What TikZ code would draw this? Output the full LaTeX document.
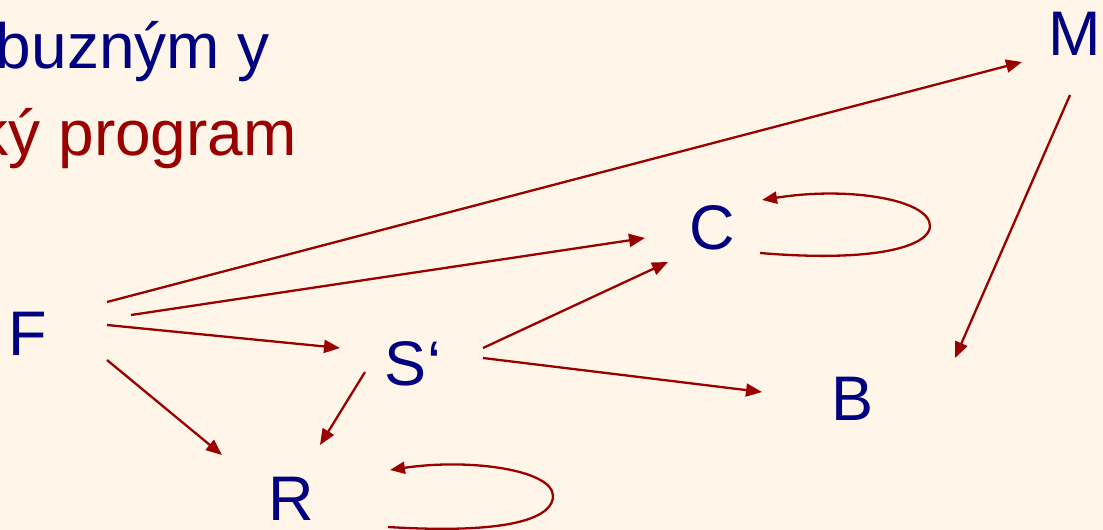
\documentclass[tikz,border=0pt]{standalone}
\usepackage{fontspec}
\setmainfont{Liberation Sans}
\usepackage{xcolor}
\definecolor{slidebg}{RGB}{255,245,232}
\definecolor{textnavy}{RGB}{0,0,128}
\definecolor{arrowred}{RGB}{153,0,0}
\usetikzlibrary{arrows.meta}
\tikzset{
    letter/.style   = {inner sep=0pt, anchor=base, text=textnavy,
                       font=\fontsize{63}{70}\selectfont},
    headline/.style = {inner sep=0pt, anchor=base east,
                       font=\fontsize{64}{72}\selectfont},
    relArrow/.style = {-{Triangle[length=16pt,width=13pt]}, line width=2.3pt,
                       draw=arrowred},
    loopArrow/.style = {-{Triangle[length=15pt,width=12pt]}, line width=2.3pt,
                        draw=arrowred}
}
\begin{document}
\begin{tikzpicture}[x=1pt, y=-1pt]
\clip (0,0) rectangle (1103,530);
\fill[slidebg] (0,0) rectangle (1103,530);
% cropped heading lines
\node[headline, text=textnavy] (line1) at (270,68)  {buzným y};
\node[headline, text=arrowred] (line2) at (297,155) {ký program};
% graph nodes
\node[letter] (F) at (28,355)   {F};
\node[letter] (S) at (413,385)  {S‘};
\node[letter] (C) at (712,249)  {C};
\node[letter] (B) at (853,420)  {B};
\node[letter] (R) at (291,520)  {R};
\node[letter] (M) at (1075,55)  {M};
% edges
\foreach \a/\p/\b/\q in {F/{79,-53}/M/{-53,7}, F/{103,-40}/C/{-67,-11},
                         F/{79,-30}/S/{-73,-37}, F/{79,5}/R/{-69,-65},
                         S/{-48,-13}/R/{29,-75}, S/{70,-37}/C/{-44,13},
                         S/{70,-27}/B/{-91,-28}, M/{-5,40}/B/{102,-62}}
   \draw[relArrow] ([shift={(\p)}]\a.base) -- ([shift={(\q)}]\b.base);
% self loops
\draw[loopArrow] ([shift={(48,4)}]C.base)
   .. controls (880,263) and (930,245) .. (930,226)
   .. controls (930,200) and (850,186) .. ([shift={(50,-49)}]C.base);
\draw[loopArrow] ([shift={(97,7)}]R.base)
   .. controls (520,535) and (553,515) .. (553,496)
   .. controls (553,470) and (470,458) .. ([shift={(99,-50)}]R.base);
\end{tikzpicture}
\end{document}
